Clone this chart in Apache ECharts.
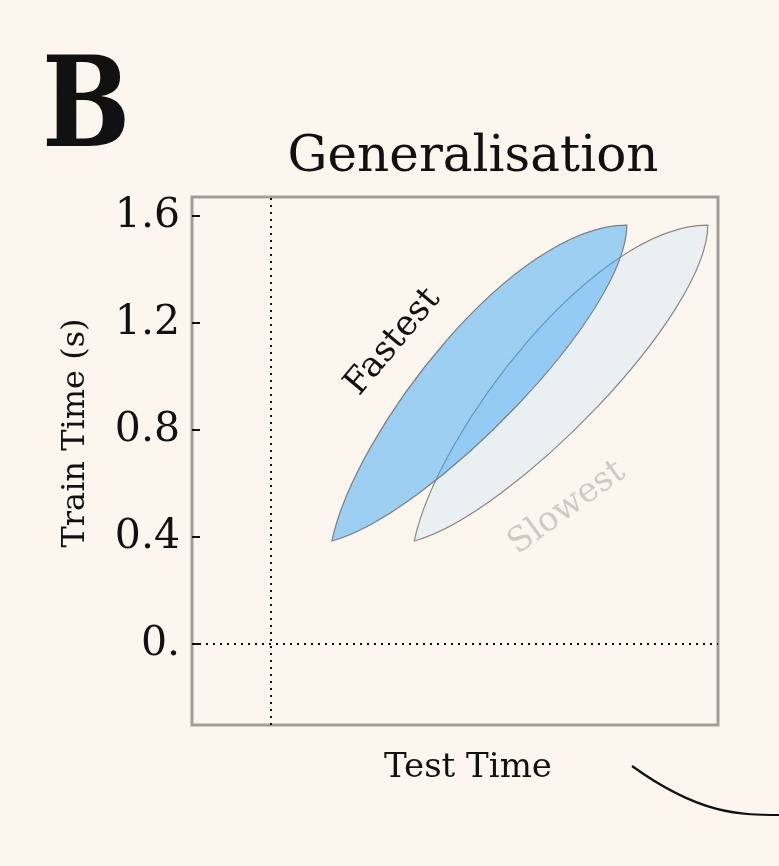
<!DOCTYPE html>
<html>
<head>
<meta charset="utf-8">
<script src="https://cdn.jsdelivr.net/npm/echarts@6/dist/echarts.min.js"></script>
<style>
  html, body { margin: 0; padding: 0; background: #fdf6ef; }
  #main { width: 779px; height: 866px; }
</style>
</head>
<body>
<div id="main"></div>
<script>
// region extents per group (data units): lower-left tip and upper-right tip
var groupNames = ['Slowest', 'Fastest'];
var testLow = [0.536, 0.228];
var testHigh = [1.634, 1.331];
var trainLow = [0.385, 0.385];
var trainHigh = [1.566, 1.566];
var yTicks = [0, 0.4, 0.8, 1.2, 1.6];

var myChart = echarts.init(document.getElementById('main'));
var serif = 'DejaVu Serif';

var regionData = groupNames.map(function (n, i) {
    return { name: n, value: [testLow[i], trainLow[i], testHigh[i], trainHigh[i]] };
});

var styles = {
    'Slowest': { fill: 'rgba(222,234,244,0.62)', stroke: '#8a8785' },
    'Fastest': { fill: 'rgba(60,168,245,0.5)', stroke: '#7b8088' }
};

// leaf outline between the two tips: two cubic edges
function leafPath(p0, p3) {
    var L = Math.sqrt(Math.pow(p3[0] - p0[0], 2) + Math.pow(p3[1] - p0[1], 2));
    var a1 = 78 * Math.PI / 180, a2 = 15 * Math.PI / 180;
    var d1 = 0.262 * L, e1 = 0.262 * L;   // upper-left edge
    var d2 = 0.232 * L, e2 = 0.208 * L;   // lower-right edge
    var up1 = [p0[0] + d1 * Math.cos(a1), p0[1] - d1 * Math.sin(a1)];
    var up2 = [p3[0] - e1, p3[1]];
    var lo2 = [p0[0] + d2 * Math.cos(a2), p0[1] - d2 * Math.sin(a2)];
    var lo1 = [p3[0], p3[1] + e2];
    function f(p) { return p[0].toFixed(2) + ' ' + p[1].toFixed(2); }
    return 'M' + f(p0) + ' C' + f(up1) + ' ' + f(up2) + ' ' + f(p3) +
        ' C' + f(lo1) + ' ' + f(lo2) + ' ' + f(p0) + ' Z';
}

var option = {
    backgroundColor: '#fdf6ef',
    animation: false,
    grid: {
        left: 192, top: 197, width: 526, height: 528,
        show: true, borderColor: '#a39d99', borderWidth: 3, backgroundColor: 'transparent'
    },
    xAxis: {
        type: 'value', min: -0.295, max: 1.672,
        axisLine: { show: false, onZero: false }, axisTick: { show: false },
        axisLabel: { show: false }, splitLine: { show: false }
    },
    yAxis: {
        type: 'value', min: -0.303, max: 1.671,
        axisLine: { show: false, onZero: false },
        splitLine: { show: false },
        axisTick: {
            show: true, inside: true, length: 8, customValues: yTicks,
            lineStyle: { color: '#111', width: 2 }
        },
        axisLabel: {
            customValues: yTicks, margin: 12,
            fontFamily: serif, fontSize: 41, color: '#111',
            formatter: function (v) { return v === 0 ? '0.' : v.toFixed(1); }
        }
    },
    series: [{
        type: 'custom',
        clip: true,
        data: regionData,
        renderItem: function (params, api) {
            var p0 = api.coord([api.value(0), api.value(1)]);
            var p3 = api.coord([api.value(2), api.value(3)]);
            var st = styles[groupNames[params.dataIndex]];
            return {
                type: 'path',
                shape: { pathData: leafPath(p0, p3) },
                style: { fill: st.fill, stroke: st.stroke, lineWidth: 1.2 }
            };
        },
        markLine: {
            silent: true, symbol: 'none', label: { show: false },
            lineStyle: { color: '#111', type: [2, 5], width: 2 },
            data: [{ xAxis: 0 }, { yAxis: 0 }]
        }
    }],
    graphic: [
        { type: 'text', left: 42, top: 50, scaleX: 0.83,
          style: { text: 'B', font: 'bold 126px "DejaVu Serif"', fill: '#111' } },
        { type: 'text', x: 473, y: 158,
          style: { text: 'Generalisation', font: '50px "DejaVu Serif"', fill: '#111',
                   align: 'center', verticalAlign: 'middle' } },
        { type: 'text', x: 76, y: 433, rotation: Math.PI / 2,
          style: { text: 'Train Time (s)', font: '32px "DejaVu Serif"', fill: '#111',
                   align: 'center', verticalAlign: 'middle' } },
        { type: 'text', x: 468, y: 768,
          style: { text: 'Test Time', font: '34px "DejaVu Serif"', fill: '#111',
                   align: 'center', verticalAlign: 'middle' } },
        { type: 'text', x: 393, y: 342, rotation: 50 * Math.PI / 180,
          style: { text: 'Fastest', font: '35px "DejaVu Serif"', fill: '#111',
                   align: 'center', verticalAlign: 'middle' } },
        { type: 'text', x: 567, y: 508, rotation: 36 * Math.PI / 180,
          style: { text: 'Slowest', font: '34px "DejaVu Serif"', fill: '#cfcac5',
                   align: 'center', verticalAlign: 'middle' } },
        { type: 'bezierCurve',
          shape: { x1: 632, y1: 766, cpx1: 700, cpy1: 815, cpx2: 740, cpy2: 815, x2: 782, y2: 815 },
          style: { stroke: '#111', lineWidth: 2.2, fill: null } }
    ]
};

myChart.setOption(option);
</script>
</body>
</html>
